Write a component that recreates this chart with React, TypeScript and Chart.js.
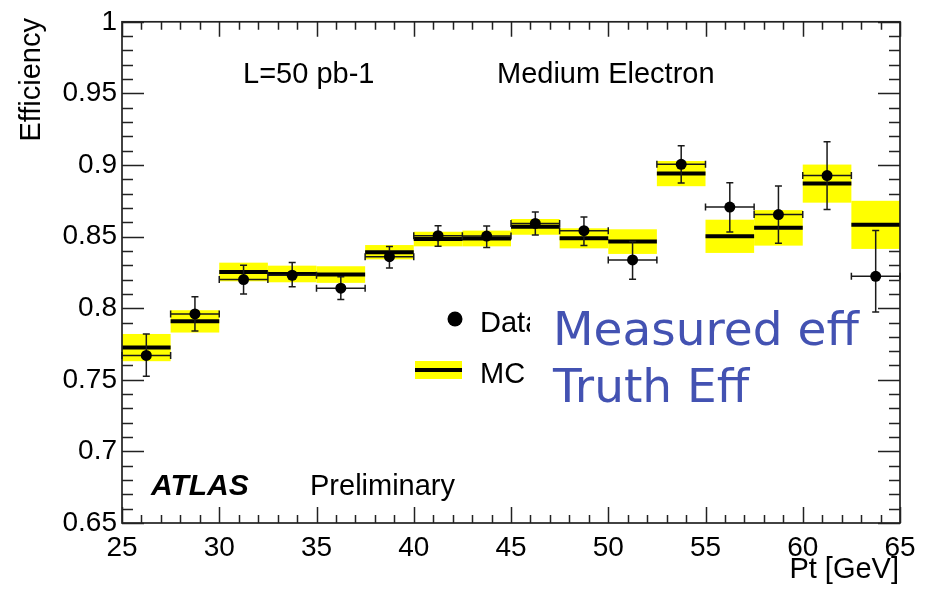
import React, { useEffect, useRef } from "react";
import { Chart, registerables } from "chart.js";

Chart.register(...registerables);

// ---- data ----
const binCenters = [26.25, 28.75, 31.25, 33.75, 36.25, 38.75, 41.25, 43.75, 46.25, 48.75, 51.25, 53.75, 56.25, 58.75, 61.25, 63.75];
const binHalfWidth = 1.25;
const dataEff = [0.767, 0.796, 0.820, 0.823, 0.814, 0.836, 0.8506, 0.8504, 0.8592, 0.8541, 0.8337, 0.9005, 0.8706, 0.8654, 0.8926, 0.8223];
const dataErrUp = [0.015, 0.012, 0.010, 0.009, 0.008, 0.007, 0.007, 0.007, 0.008, 0.0096, 0.0128, 0.013, 0.017, 0.020, 0.0237, 0.032];
const dataErrDown = [0.0145, 0.012, 0.010, 0.008, 0.008, 0.008, 0.0074, 0.008, 0.008, 0.0104, 0.0135, 0.013, 0.0174, 0.020, 0.0237, 0.025];
const mcEff = [0.7725, 0.7908, 0.8253, 0.8239, 0.8235, 0.8391, 0.8483, 0.8487, 0.8568, 0.8488, 0.8465, 0.894, 0.8502, 0.8561, 0.887, 0.8582];
const mcErr = [0.0095, 0.0078, 0.0065, 0.0058, 0.0058, 0.005, 0.0051, 0.0055, 0.0055, 0.007, 0.0086, 0.0088, 0.0116, 0.0124, 0.0133, 0.0168];
const xTickValues = [25, 30, 35, 40, 45, 50, 55, 60, 65];
const yTickValues = [0.65, 0.7, 0.75, 0.8, 0.85, 0.9, 0.95, 1];
const xMinorStep = 1;
const yMinorStep = 0.01;

const FONT = '"Liberation Sans", Arial, Helvetica, sans-serif';
const BLUE = "#4352B2";

const atlasPlugin = {
  id: "atlasDecor",
  beforeDatasetsDraw(chart: any) {
    const { ctx, chartArea: a, scales } = chart;
    const x = scales.x;
    const y = scales.y;
    ctx.save();
    // ticks (inward), on all four sides
    ctx.strokeStyle = "#222";
    ctx.lineWidth = 1.5;
    ctx.beginPath();
    const xmin = xTickValues[0], xmax = xTickValues[xTickValues.length - 1];
    for (let v = xmin; v <= xmax + 1e-9; v += xMinorStep) {
      const major = Math.abs((v - xmin) % 5) < 1e-6;
      const px = Math.round(x.getPixelForValue(v)) + 0.5;
      const lb = major ? 16 : 8;
      const lt = major ? 15 : 8;
      ctx.moveTo(px, a.bottom);
      ctx.lineTo(px, a.bottom - lb);
      ctx.moveTo(px, a.top);
      ctx.lineTo(px, a.top + lt);
    }
    const ymin = yTickValues[0], ymax = yTickValues[yTickValues.length - 1];
    const nY = Math.round((ymax - ymin) / yMinorStep);
    for (let k = 0; k <= nY; k++) {
      const v = ymin + k * yMinorStep;
      const major = k % 5 === 0;
      const py = Math.round(y.getPixelForValue(v)) + 0.5;
      const l = major ? 22 : 11;
      ctx.moveTo(a.left, py);
      ctx.lineTo(a.left + l, py);
      ctx.moveTo(a.right, py);
      ctx.lineTo(a.right - l, py);
    }
    ctx.stroke();

    // MC bands
    ctx.fillStyle = "#ffff00";
    binCenters.forEach((c, i) => {
      const x0 = x.getPixelForValue(c - binHalfWidth);
      const x1 = x.getPixelForValue(c + binHalfWidth);
      const y0 = y.getPixelForValue(mcEff[i] + mcErr[i]);
      const y1 = y.getPixelForValue(mcEff[i] - mcErr[i]);
      ctx.fillRect(x0, y0, x1 - x0, y1 - y0);
    });
    // MC central lines
    ctx.strokeStyle = "#000";
    ctx.lineWidth = 4;
    ctx.beginPath();
    binCenters.forEach((c, i) => {
      const x0 = x.getPixelForValue(c - binHalfWidth);
      const x1 = x.getPixelForValue(c + binHalfWidth);
      const py = y.getPixelForValue(mcEff[i]);
      ctx.moveTo(x0, py);
      ctx.lineTo(x1, py);
    });
    ctx.stroke();

    // frame
    ctx.strokeStyle = "#222";
    ctx.lineWidth = 1.7;
    ctx.strokeRect(a.left, a.top, a.right - a.left, a.bottom - a.top);

    // data error bars
    ctx.strokeStyle = "#1a1a1a";
    ctx.lineWidth = 1.5;
    ctx.beginPath();
    const cap = 3.5;
    binCenters.forEach((c, i) => {
      const x0 = x.getPixelForValue(c - binHalfWidth);
      const x1 = x.getPixelForValue(c + binHalfWidth);
      const xc = x.getPixelForValue(c);
      const yc = y.getPixelForValue(dataEff[i]);
      const yt = y.getPixelForValue(dataEff[i] + dataErrUp[i]);
      const yb = y.getPixelForValue(dataEff[i] - dataErrDown[i]);
      ctx.moveTo(x0, yc); ctx.lineTo(x1, yc);
      ctx.moveTo(x0, yc - cap); ctx.lineTo(x0, yc + cap);
      ctx.moveTo(x1, yc - cap); ctx.lineTo(x1, yc + cap);
      ctx.moveTo(xc, yt); ctx.lineTo(xc, yb);
      ctx.moveTo(xc - cap, yt); ctx.lineTo(xc + cap, yt);
      ctx.moveTo(xc - cap, yb); ctx.lineTo(xc + cap, yb);
    });
    ctx.stroke();
    ctx.restore();
  },
  afterDatasetsDraw(chart: any) {
    const { ctx } = chart;
    ctx.save();
    ctx.fillStyle = "#000";
    ctx.textBaseline = "alphabetic";
    ctx.textAlign = "left";
    ctx.font = `29px ${FONT}`;
    ctx.fillText("L=50 pb-1", 243, 83);
    ctx.fillText("Medium Electron", 497, 83);
    ctx.font = `italic bold 30px ${FONT}`;
    ctx.fillText("ATLAS", 151, 495);
    ctx.font = `29px ${FONT}`;
    ctx.fillText("Preliminary", 310, 495);

    // legend
    ctx.beginPath();
    ctx.arc(455, 319, 7.5, 0, Math.PI * 2);
    ctx.fill();
    ctx.fillText("Data", 480, 332);
    ctx.fillStyle = "#ffff00";
    ctx.fillRect(415, 361, 47, 18);
    ctx.strokeStyle = "#000";
    ctx.lineWidth = 4;
    ctx.beginPath();
    ctx.moveTo(415, 370);
    ctx.lineTo(462, 370);
    ctx.stroke();
    ctx.fillStyle = "#000";
    ctx.fillText("MC", 480, 383);

    // white overlay box with handwritten annotation
    ctx.fillStyle = "#ffffff";
    ctx.fillRect(530, 293, 335, 122);
    ctx.fillStyle = BLUE;
    ctx.font = `47px "Comic Sans MS", "DejaVu Sans", sans-serif`;
    ctx.fillText("Measured eff", 553, 345);
    ctx.fillText("Truth Eff", 553, 402);

    // axis titles
    ctx.fillStyle = "#000";
    ctx.font = `29px ${FONT}`;
    ctx.textAlign = "right";
    ctx.fillText("Pt [GeV]", 899, 578);
    ctx.save();
    ctx.translate(40, 18);
    ctx.rotate(-Math.PI / 2);
    ctx.textAlign = "right";
    ctx.fillText("Efficiency", 0, 0);
    ctx.restore();
    ctx.restore();
  },
};

export default function App() {
  const ref = useRef<HTMLCanvasElement | null>(null);
  useEffect(() => {
    if (!ref.current) return;
    const chart = new Chart(ref.current, {
      type: "scatter",
      data: {
        datasets: [
          {
            label: "Data",
            data: binCenters.map((c, i) => ({ x: c, y: dataEff[i] })),
            pointRadius: 5.5,
            pointBackgroundColor: "#000",
            pointBorderWidth: 0,
            showLine: false,
          },
        ],
      },
      options: {
        responsive: false,
        animation: false,
        events: [],
        layout: { padding: { top: 20, right: 30, left: 0, bottom: 0 } },
        plugins: { legend: { display: false }, tooltip: { enabled: false } },
        scales: {
          x: {
            type: "linear",
            min: 25,
            max: 65,
            grid: { display: false, drawTicks: false },
            border: { display: false },
            afterBuildTicks: (s: any) => {
              s.ticks = xTickValues.map((v) => ({ value: v }));
            },
            afterFit: (s: any) => {
              s.height = 67;
            },
            ticks: {
              color: "#000",
              font: { family: FONT, size: 28 },
              padding: 8,
              maxRotation: 0,
              autoSkip: false,
              callback: (v: any) => String(v),
            },
          },
          y: {
            type: "linear",
            min: 0.65,
            max: 1,
            grid: { display: false, drawTicks: false },
            border: { display: false },
            afterBuildTicks: (s: any) => {
              s.ticks = yTickValues.map((v) => ({ value: v }));
            },
            afterFit: (s: any) => {
              s.width = 122;
            },
            ticks: {
              color: "#000",
              font: { family: FONT, size: 28 },
              padding: 5,
              autoSkip: false,
              callback: (v: any) => String(+Number(v).toFixed(2)),
            },
          },
        },
      },
      plugins: [atlasPlugin],
    } as any);
    return () => chart.destroy();
  }, []);
  return (
    <div style={{ position: "absolute", left: 0, top: 0, width: 930, height: 590, background: "#fff" }}>
      <canvas ref={ref} width={930} height={590} style={{ display: "block" }} />
    </div>
  );
}
